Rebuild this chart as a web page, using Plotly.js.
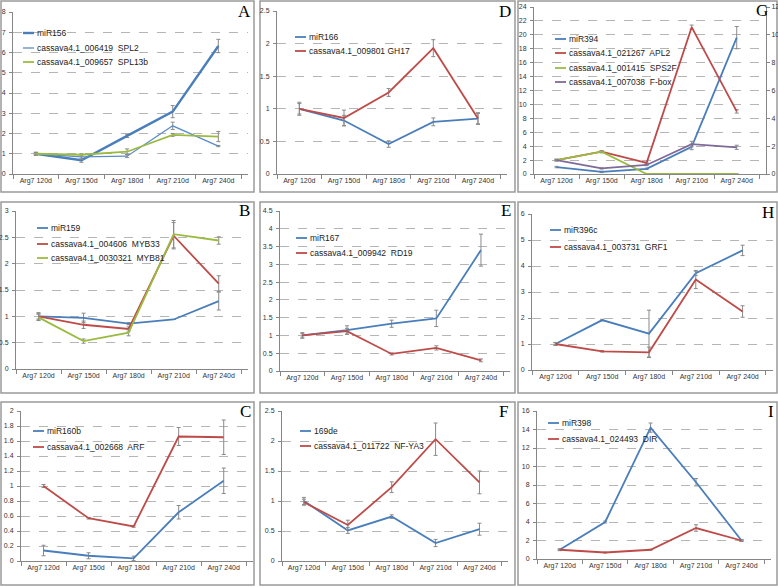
<!DOCTYPE html>
<html><head><meta charset="utf-8">
<script src="https://cdn.plot.ly/plotly-3.0.1.min.js"></script>
<style>html,body{margin:0;padding:0;background:#fff}#chart{width:778px;height:587px}</style>
</head><body><div id="chart"></div>
<script>
const categories = ['Arg7 120d','Arg7 150d','Arg7 180d','Arg7 210d','Arg7 240d'];

// Panel A
const aNames = ['miR156','cassava4.1_006419  SPL2','cassava4.1_009657  SPL13b'];
const aMiR156 = [1.0, 0.68, 1.88, 3.08, 6.32];
const aMiR156Err = [0.08, 0.1, 0.08, 0.3, 0.33];
const aSPL2 = [1.0, 0.85, 0.88, 2.38, 1.38];
const aSPL2Err = [0.05, 0.12, 0.07, 0.18, 0.03];
const aSPL13b = [1.0, 0.95, 1.1, 1.93, 1.85];
const aSPL13bErr = [0.06, 0.05, 0.14, 0.07, 0.25];

// Panel D
const dNames = ['miR166','cassava4.1_009801 GH17'];
const dMiR166 = [1.0, 0.82, 0.46, 0.80, 0.85];
const dMiR166Err = [0.1, 0.08, 0.05, 0.06, 0.08];
const dGH17 = [1.0, 0.86, 1.25, 1.93, 0.85];
const dGH17Err = [0.08, 0.12, 0.06, 0.13, 0.09];

// Panel G (miR394 left axis, targets right axis)
const gNames = ['miR394','cassava4.1_021267  APL2','cassava4.1_001415  SPS2F','cassava4.1_007038  F-box'];
const gMiR394 = [1.0, 0.3, 0.75, 3.9, 19.6];
const gMiR394Err = [0.1, 0.1, 0.1, 0.4, 1.6];
const gAPL2 = [1.0, 1.6, 0.8, 10.55, 4.5];
const gAPL2Err = [0.05, 0.08, 0.05, 0.15, 0.12];
const gSPS2F = [1.0, 1.6, 0.0, 0.0, 0.0];
const gSPS2FErr = [0.06, 0.06, 0, 0, 0];
const gFbox = [1.0, 0.4, 0.65, 2.15, 1.92];
const gFboxErr = [0.06, 0.04, 0.05, 0.2, 0.15];

// Panel B
const bNames = ['miR159','cassava4.1_004606  MYB33','cassava4.1_0030321  MYB81'];
const bMiR159 = [1.0, 0.97, 0.86, 0.94, 1.29];
const bMiR159Err = [0.07, 0.09, 0.02, 0, 0.17];
const bMYB33 = [1.0, 0.84, 0.76, 2.53, 1.62];
const bMYB33Err = [0.05, 0.07, 0.04, 0.25, 0.15];
const bMYB81 = [0.98, 0.53, 0.69, 2.56, 2.44];
const bMYB81Err = [0.06, 0.04, 0.06, 0.26, 0.07];

// Panel E
const eNames = ['miR167','cassava4.1_009942  RD19'];
const eMiR167 = [1.0, 1.15, 1.33, 1.48, 3.4];
const eMiR167Err = [0.08, 0.12, 0.1, 0.23, 0.45];
const eRD19 = [1.0, 1.12, 0.48, 0.65, 0.3];
const eRD19Err = [0.05, 0.08, 0.03, 0.06, 0.04];

// Panel H
const hNames = ['miR396c','cassava4.1_003731  GRF1'];
const hMiR396c = [1.0, 1.92, 1.4, 3.72, 4.6];
const hMiR396cErr = [0.06, 0.03, 0.9, 0.08, 0.2];
const hGRF1 = [1.0, 0.72, 0.68, 3.48, 2.25];
const hGRF1Err = [0.05, 0.03, 0.2, 0.35, 0.22];

// Panel C
const cNames = ['miR160b','cassava4.1_002668  ARF'];
const cMiR160b = [0.14, 0.07, 0.035, 0.65, 1.07];
const cMiR160bErr = [0.07, 0.04, 0.03, 0.09, 0.17];
const cARF = [1.0, 0.57, 0.46, 1.66, 1.65];
const cARFErr = [0.02, 0.01, 0.01, 0.12, 0.23];

// Panel F
const fNames = ['169de','cassava4.1_011722  NF-YA3'];
const f169de = [1.0, 0.51, 0.74, 0.3, 0.53];
const f169deErr = [0.06, 0.05, 0.03, 0.06, 0.1];
const fNFYA3 = [0.98, 0.6, 1.23, 2.03, 1.31];
const fNFYA3Err = [0.05, 0.08, 0.09, 0.27, 0.19];

// Panel I
const iNames = ['miR398','cassava4.1_024493  DIR'];
const iMiR398 = [1.0, 4.0, 14.2, 8.3, 2.0];
const iMiR398Err = [0.1, 0.1, 0.5, 0.4, 0.1];
const iDIR = [1.0, 0.7, 1.0, 3.35, 2.0];
const iDIRErr = [0.05, 0.05, 0.05, 0.35, 0.1];

const BLUE='#4a7ebb', LBLUE='#5b8ccb', RED='#be4b48', GREEN='#9bbb40', PURPLE='#7f6a9a';
const W=778, H=587;
const fx=p=>p/W, fy=p=>1-p/H;
const FONT='Liberation Sans, Arial, sans-serif';

const panels = [
 {letter:'A', xd:[13,248], yd:[12,174], yr:[0,8], dt:1, lp:[244,11],
  leg:{x:23, y:[33,48,62]},
  s:[{n:aNames[0],y:aMiR156,e:aMiR156Err,c:BLUE,w:2.4},
     {n:aNames[1],y:aSPL2,e:aSPL2Err,c:LBLUE,w:1.3},
     {n:aNames[2],y:aSPL13b,e:aSPL13bErr,c:GREEN,w:1.8}]},
 {letter:'D', xd:[277,507], yd:[11,174], yr:[0,2.5], dt:0.5, lp:[505,11],
  leg:{x:295, y:[37,51]},
  s:[{n:dNames[0],y:dMiR166,e:dMiR166Err,c:BLUE,w:1.8},
     {n:dNames[1],y:dGH17,e:dGH17Err,c:RED,w:1.8}]},
 {letter:'G', xd:[534,766], yd:[7,174], yr:[0,24], dt:2, lp:[762,10], y2:[0,12],
  leg:{x:555, y:[39,53,68,82]},
  s:[{n:gNames[0],y:gMiR394,e:gMiR394Err,c:BLUE,w:1.8},
     {n:gNames[1],y:gAPL2,e:gAPL2Err,c:RED,w:1.8,right:true},
     {n:gNames[2],y:gSPS2F,e:gSPS2FErr,c:GREEN,w:1.8,right:true},
     {n:gNames[3],y:gFbox,e:gFboxErr,c:PURPLE,w:1.8,right:true}]},
 {letter:'B', xd:[16,248], yd:[211,369], yr:[0,3], dt:0.5, lp:[244,210],
  leg:{x:37, y:[228,244,258]},
  s:[{n:bNames[0],y:bMiR159,e:bMiR159Err,c:BLUE,w:1.8},
     {n:bNames[1],y:bMYB33,e:bMYB33Err,c:RED,w:1.8},
     {n:bNames[2],y:bMYB81,e:bMYB81Err,c:GREEN,w:1.8}]},
 {letter:'E', xd:[280,510], yd:[211,371], yr:[0,4.5], dt:0.5, lp:[506,211],
  leg:{x:296, y:[238,253]},
  s:[{n:eNames[0],y:eMiR167,e:eMiR167Err,c:BLUE,w:1.8},
     {n:eNames[1],y:eRD19,e:eRD19Err,c:RED,w:1.8}]},
 {letter:'H', xd:[532,773], yd:[214,370], yr:[0,6], dt:1, lp:[768,213],
  leg:{x:550, y:[230,247]},
  s:[{n:hNames[0],y:hMiR396c,e:hMiR396cErr,c:BLUE,w:1.8},
     {n:hNames[1],y:hGRF1,e:hGRF1Err,c:RED,w:1.8}]},
 {letter:'C', xd:[21,253], yd:[411,561], yr:[0,2], dt:0.2, lp:[245,411],
  leg:{x:33, y:[431,447]},
  s:[{n:cNames[0],y:cMiR160b,e:cMiR160bErr,c:BLUE,w:1.8},
     {n:cNames[1],y:cARF,e:cARFErr,c:RED,w:1.8}]},
 {letter:'F', xd:[282,508], yd:[411,561], yr:[0,2.5], dt:0.5, lp:[504,411],
  leg:{x:300, y:[431,446]},
  s:[{n:fNames[0],y:f169de,e:f169deErr,c:BLUE,w:1.8},
     {n:fNames[1],y:fNFYA3,e:fNFYA3Err,c:RED,w:1.8}]},
 {letter:'I', xd:[537,771], yd:[411,559], yr:[0,16], dt:2, lp:[771,411],
  leg:{x:548, y:[423,439]},
  s:[{n:iNames[0],y:iMiR398,e:iMiR398Err,c:BLUE,w:1.8},
     {n:iNames[1],y:iDIR,e:iDIRErr,c:RED,w:1.8}]}
];

const boxes = {cols:[[1,254],[260,515],[518,777]], rows:[[1,192],[202,393],[402,585]]};

const data=[], layout={
  width:W, height:H, margin:{l:0,r:0,t:0,b:0}, showlegend:false,
  paper_bgcolor:'#fff', plot_bgcolor:'#fff', font:{family:FONT, size:7, color:'#333'},
  shapes:[], annotations:[]
};

const axisCommon = {showline:true, linecolor:'#868686', linewidth:1, ticks:'outside', tickcolor:'#868686', ticklen:3, tickfont:{size:7, family:FONT, color:'#333'}};

panels.forEach((p,i)=>{
  const k=i+1, xs = k===1?'':k, xa='x'+xs, ya='y'+xs;
  layout['xaxis'+xs] = Object.assign({}, axisCommon, {
    type:'category', domain:[fx(p.xd[0]),fx(p.xd[1])], anchor:ya, range:[-0.5,4.65],
    tickson:'boundaries', ticklen:4, showgrid:false, zeroline:false, fixedrange:true});
  layout['yaxis'+xs] = Object.assign({}, axisCommon, {
    domain:[fy(p.yd[1]),fy(p.yd[0])], anchor:xa, range:p.yr, dtick:p.dt, tick0:0,
    showgrid:true, gridcolor:'#b5b5b5', griddash:'dash', gridwidth:1, zeroline:false, ticklabelstandoff:2});
  let y2name=null;
  if(p.y2){
    y2name='y10';
    layout['yaxis10'] = Object.assign({}, axisCommon, {
      overlaying:ya, side:'right', anchor:xa, range:p.y2, dtick:2, tick0:0, showgrid:false, zeroline:false});
  }
  p.s.forEach(s=>{
    data.push({type:'scatter', mode:'lines', x:categories, y:s.y, xaxis:xa, yaxis:(s.right?y2name:ya),
      line:{color:s.c, width:s.w}, name:s.n,
      error_y:{type:'data', array:s.e, visible:true, color:'#8a8a8a', thickness:1, width:2}});
  });
  // legend
  p.s.forEach((s,j)=>{
    layout.shapes.push({type:'line', xref:'paper', yref:'paper', x0:fx(p.leg.x), x1:fx(p.leg.x+11),
      y0:fy(p.leg.y[j]), y1:fy(p.leg.y[j]), line:{color:s.c, width:s.w}});
    layout.annotations.push({xref:'paper', yref:'paper', x:fx(p.leg.x+12), y:fy(p.leg.y[j]),
      xanchor:'left', yanchor:'middle', text:s.n, showarrow:false, font:{size:8.5, family:FONT, color:'#222'}});
  });
  layout.annotations.push({xref:'paper', yref:'paper', x:fx(p.lp[0]), y:fy(p.lp[1]), xanchor:'center', yanchor:'middle',
    text:p.letter, showarrow:false, font:{size:17, family:'Liberation Serif, Times New Roman, serif', color:'#000'}});
});

boxes.rows.forEach(r=>boxes.cols.forEach(c=>{
  layout.shapes.push({type:'rect', xref:'paper', yref:'paper', x0:fx(c[0]), x1:fx(c[1]), y0:fy(r[1]), y1:fy(r[0]),
    line:{color:'#9a9a9a', width:1.5}, layer:'below'});
}));

Plotly.newPlot('chart', data, layout, {staticPlot:true, displayModeBar:false});
</script>
</body></html>
